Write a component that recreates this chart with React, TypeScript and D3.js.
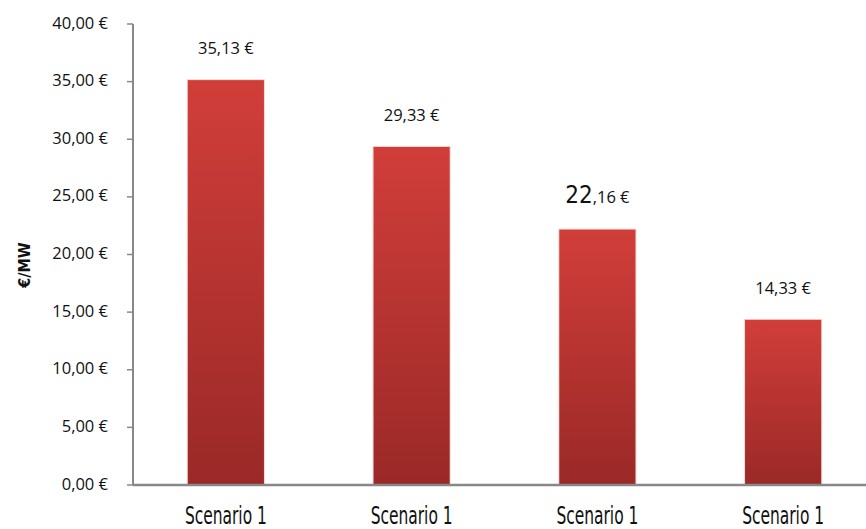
import React from 'react';
import * as d3 from 'd3';

const categories = ['Scenario 1', 'Scenario 1', 'Scenario 1', 'Scenario 1'];
const values = [35.13, 29.33, 22.16, 14.33];
const yTicks = [0, 5, 10, 15, 20, 25, 30, 35, 40];

const fmt = (v: number) => v.toFixed(2).replace('.', ',') + ' €';

export default function App() {
  const width = 866;
  const height = 529;
  const left = 133;
  const base = 485;

  const x = d3.scaleBand<number>()
    .domain(d3.range(categories.length))
    .range([left, left + 743])
    .paddingInner(0.59)
    .paddingOuter(0.295);

  const y = d3.scaleLinear().domain([0, 40]).range([base, 24]);

  const font = "'Open Sans', 'DejaVu Sans', sans-serif";
  const condensed = "'DejaVu Sans Condensed', 'Liberation Sans Narrow', sans-serif";

  return (
    <svg width={width} height={height} style={{ position: 'absolute', left: 0, top: 0 }}>
      <defs>
        <linearGradient id="barGrad" x1="0" y1="0" x2="0" y2="1">
          <stop offset="0%" stopColor="#d13e3a" />
          <stop offset="100%" stopColor="#9a2927" />
        </linearGradient>
      </defs>
      <rect width={width} height={height} fill="#fff" />

      {values.map((v, i) => {
        const bx = x(i)!;
        const bw = x.bandwidth();
        const cx = bx + bw / 2;
        const s = fmt(v);
        const whole = s.split(',')[0];
        const rest = ',' + s.split(',')[1];
        return (
          <g key={i}>
            <rect x={bx - 1} y={y(v) - 1} width={bw + 2} height={base - y(v) + 1} fill="#f3d6d4" />
            <rect x={bx} y={y(v)} width={bw} height={base - y(v)} fill="url(#barGrad)" />
            {i === 2 ? (
              <text x={cx} y={y(v) - 27} textAnchor="middle" fontFamily={font} fill="#111">
                <tspan fontSize={24} fontFamily={condensed}>{whole}</tspan>
                <tspan fontSize={16.5}>{rest}</tspan>
              </text>
            ) : (
              <text x={cx} y={y(v) - 26} textAnchor="middle" fontFamily={font} fontSize={16.5} fill="#111">{s}</text>
            )}
            <text x={cx} y={524} textAnchor="middle" fontFamily={condensed} fontSize={24} fill="#111"
              textLength={82} lengthAdjust="spacingAndGlyphs">{categories[i]}</text>
          </g>
        );
      })}

      {yTicks.map(t => (
        <g key={t}>
          <line x1={127} x2={left} y1={y(t)} y2={y(t)} stroke="#888" strokeWidth={1.5} />
          <text x={108} y={y(t) + 4.5} textAnchor="end" fontFamily={font} fontSize={16.5} fill="#111">{fmt(t)}</text>
        </g>
      ))}
      <line x1={left} x2={left} y1={y(40)} y2={base} stroke="#888" strokeWidth={2} />
      <line x1={left} x2={width} y1={base} y2={base} stroke="#888" strokeWidth={2.5} />

      <text transform={`translate(30,${265}) rotate(-90)`} textAnchor="middle" fontFamily={condensed} fontSize={16} fontWeight="bold" fill="#111">€/MW</text>
    </svg>
  );
}
